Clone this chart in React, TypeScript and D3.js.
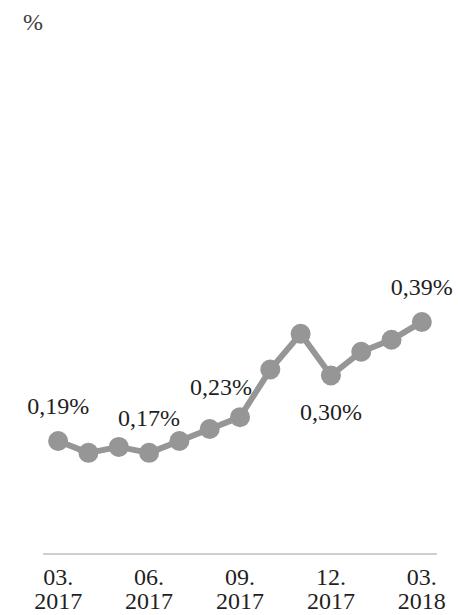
import React from 'react';
import * as d3 from 'd3';

// monthly values, %
const months = [
  '03.2017', '04.2017', '05.2017', '06.2017', '07.2017', '08.2017', '09.2017',
  '10.2017', '11.2017', '12.2017', '01.2018', '02.2018', '03.2018',
];
const values = [0.19, 0.17, 0.18, 0.17, 0.19, 0.21, 0.23, 0.31, 0.37, 0.30, 0.34, 0.36, 0.39];
const tickMonths = ['03.2017', '06.2017', '09.2017', '12.2017', '03.2018'];
const labelled = ['03.2017', '06.2017', '09.2017', '12.2017', '03.2018'];

const fmt = (v: number) => v.toFixed(2).replace('.', ',') + '%';

const App: React.FC = () => {
  const width = 458;
  const height = 615;
  const font = '"Liberation Serif", serif';
  const fs = 24;

  const x = d3.scaleBand<string>().domain(months).range([43, 437]);
  const y = d3.scaleLinear().domain([0, 0.8]).range([554, 78]);
  const cx = (m: string) => (x(m) || 0) + x.bandwidth() / 2;

  const pts = months.map((m, i) => ({ m, v: values[i] }));
  const line = d3.line<{ m: string; v: number }>().x(d => cx(d.m)).y(d => y(d.v));

  // label nudges to follow the original placement
  const labelPos = (m: string): [number, number] => {
    if (m === '09.2017') return [-19, -22];
    if (m === '12.2017') return [0, 44];
    return [0, -27];
  };

  return (
    <svg width={width} height={height} style={{ position: 'absolute', left: 0, top: 0 }}>
      <rect width={width} height={height} fill="#fff" />
      <text x={23} y={30} fontFamily={font} fontSize={fs} fill="#404040">%</text>

      <line x1={43} x2={437} y1={y(0)} y2={y(0)} stroke="#bfbfbf" strokeWidth={1.5} />

      <path d={line(pts) || ''} fill="none" stroke="#969696" strokeWidth={6} strokeLinejoin="round" />
      {pts.map(d => (
        <circle key={d.m} cx={cx(d.m)} cy={y(d.v)} r={10} fill="#969696" />
      ))}

      {pts.filter(d => labelled.includes(d.m)).map(d => {
        const [dx, dy] = labelPos(d.m);
        return (
          <text key={'l' + d.m} x={cx(d.m) + dx} y={y(d.v) + dy} textAnchor="middle"
            fontFamily={font} fontSize={fs} fill="#1f1f1f">{fmt(d.v)}</text>
        );
      })}

      {tickMonths.map(m => {
        const [mm, yy] = m.split('.');
        return (
          <text key={'t' + m} x={cx(m)} textAnchor="middle" fontFamily={font} fontSize={fs} fill="#1f1f1f">
            <tspan x={cx(m)} y={585}>{mm + '.'}</tspan>
            <tspan x={cx(m)} y={609}>{yy}</tspan>
          </text>
        );
      })}
    </svg>
  );
};

export default App;
